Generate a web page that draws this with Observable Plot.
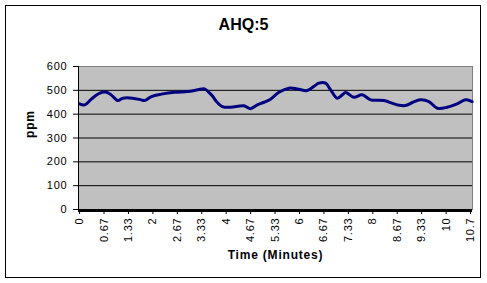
<!DOCTYPE html>
<html><head><meta charset="utf-8">
<script src="https://cdn.jsdelivr.net/npm/d3@7"></script>
<script src="https://cdn.jsdelivr.net/npm/@observablehq/plot@0.6"></script>
<style>
body{margin:0;background:#fff;font-family:"Liberation Sans",Arial,sans-serif;}
#wrap{position:relative;width:487px;height:283px;overflow:hidden;}
#border{position:absolute;left:5px;top:5px;width:476px;height:273px;border:1px solid #000;box-sizing:border-box;}
#title{position:absolute;left:0;width:487px;top:16px;text-align:center;font-weight:bold;font-size:16px;color:#000;}
#chart{position:absolute;left:0;top:0;}
</style></head><body>
<div id="wrap"><div id="border"></div><div id="title">AHQ:5</div><div id="chart"></div></div>
<script>
const times = [0,0.14,0.32,0.55,0.73,0.86,1.04,1.18,1.45,1.68,1.77,1.96,2.23,2.59,2.95,3.23,3.41,3.55,3.63,3.74,3.89,4.12,4.48,4.66,4.85,5.03,5.21,5.44,5.71,5.94,6.21,6.39,6.53,6.71,6.85,7.03,7.17,7.26,7.48,7.71,7.94,8.30,8.67,8.89,9.08,9.30,9.53,9.76,10.03,10.30,10.53,10.71];
const ppm = [443,439,463,488,492,481,457,467,467,460,457,474,484,492,495,502,506,488,475,452,432,429,435,423,439,450,463,492,509,506,499,516,530,530,502,467,481,491,471,481,460,457,439,436,449,460,453,425,429,443,460,453];
const tickTimes = [0,0.667,1.333,2,2.667,3.333,4,4.667,5.333,6,6.667,7.333,8,8.667,9.333,10,10.667];
const tickLabels = ["0","0.67","1.33","2","2.67","3.33","4","4.67","5.33","6","6.67","7.33","8","8.67","9.33","10","10.7"];
const yTicks = [0,100,200,300,400,500,600];
const data = times.map((t,i)=>({t, v: ppm[i]}));

const chart = Plot.plot({
  width: 487, height: 283,
  marginLeft: 78, marginRight: 15, marginTop: 66, marginBottom: 74,
  style: {background: "transparent", fontFamily: "'Liberation Sans', Arial, sans-serif", fontSize: "11px", color: "#000", letterSpacing: "0.8px"},
  x: {domain: [-0.03, 10.72]},
  y: {domain: [0, 600]},
  marks: [
    Plot.frame({fill: "#c0c0c0", stroke: "#808080"}),
    Plot.gridY(yTicks.slice(1, 6), {stroke: "#000", strokeOpacity: 1}),
    Plot.line(data, {x: "t", y: "v", stroke: "#000080", strokeWidth: 3, curve: "catmull-rom"}),
    Plot.ruleY([0], {stroke: "#000", strokeWidth: 3, dy: 1}),
    Plot.ruleX([-0.03], {stroke: "#000"}),
    Plot.axisY(yTicks, {tickSize: 5, tickPadding: 6, label: null, stroke: "#000", fill: "#000"}),
    Plot.axisX(tickTimes, {tickSize: 5, tickPadding: 3, tickRotate: -90, label: null, stroke: "#000", fill: "#000",
      tickFormat: (d) => tickLabels[tickTimes.indexOf(d)]}),
    Plot.text(["ppm"], {frameAnchor: "left", dx: -48, rotate: -90, fontWeight: "bold", fontSize: 12, fill: "#000"}),
    Plot.text(["Time (Minutes)"], {frameAnchor: "bottom", dy: 46, lineAnchor: "middle", fontWeight: "bold", fontSize: 12, fill: "#000"})
  ]
});
document.getElementById("chart").appendChild(chart);
</script>
</body></html>
